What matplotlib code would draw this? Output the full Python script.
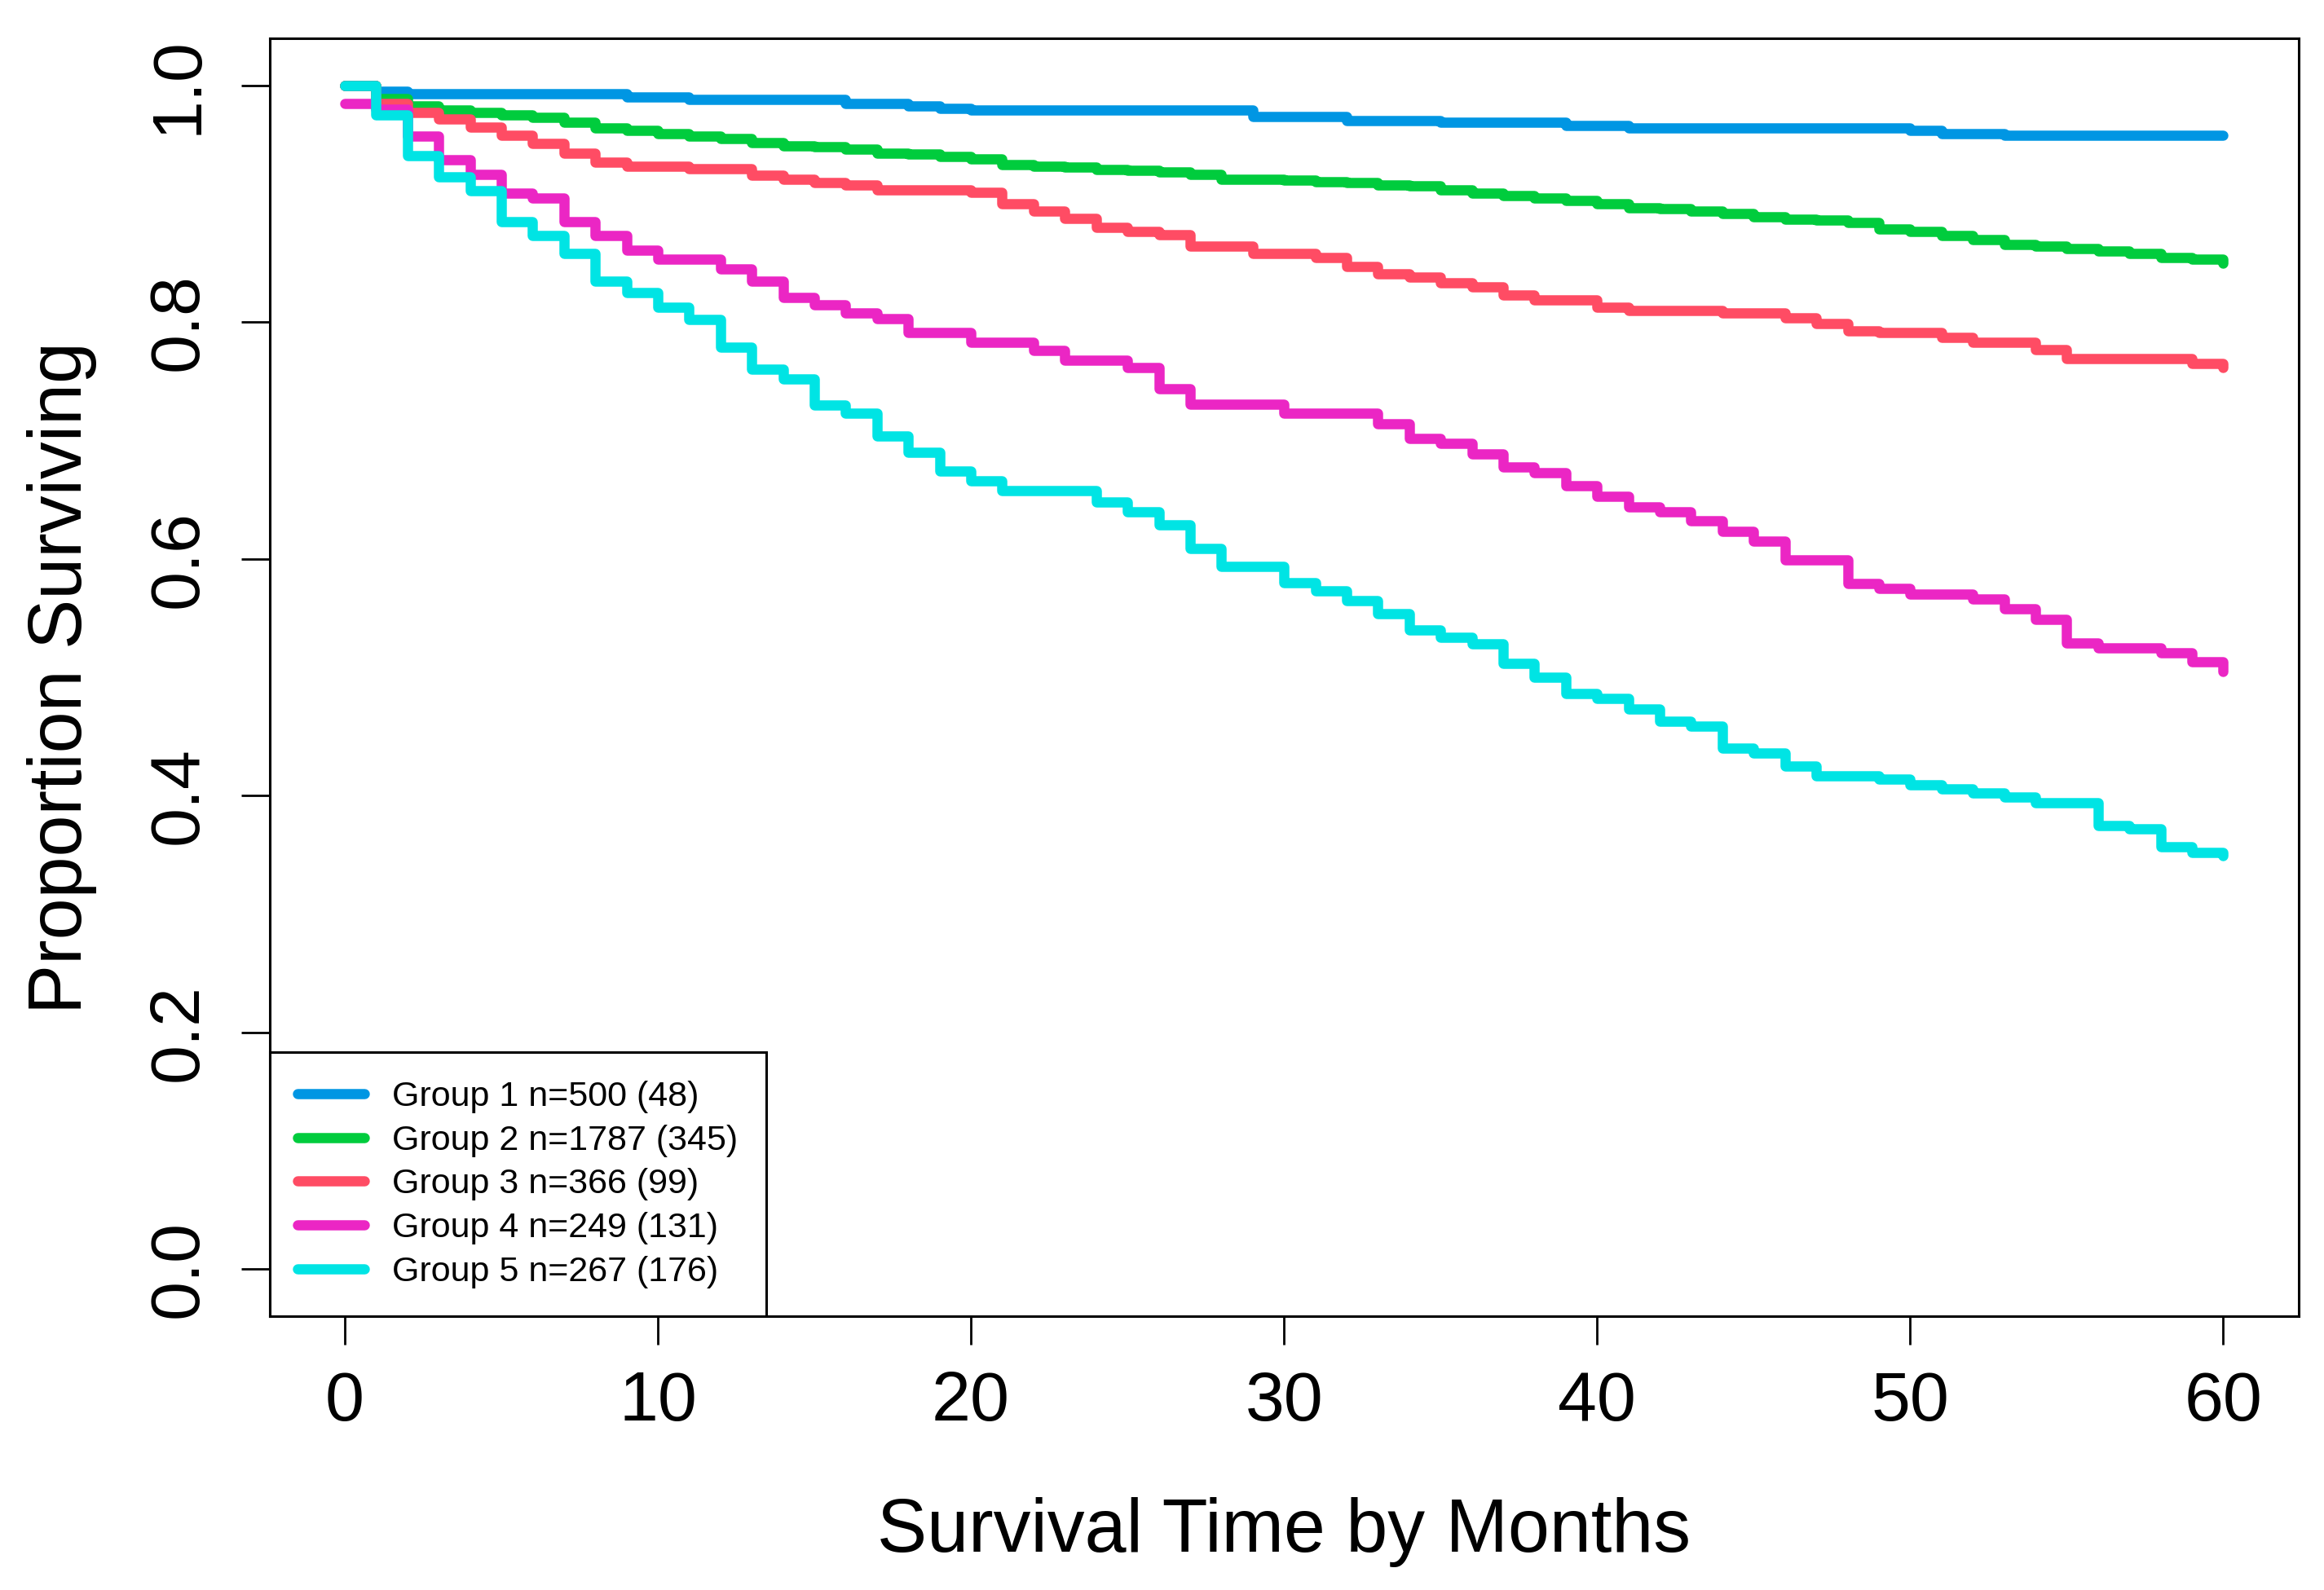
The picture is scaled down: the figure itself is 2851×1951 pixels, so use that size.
import matplotlib
matplotlib.use('Agg')
import matplotlib.pyplot as plt

plt.rcParams['font.family'] = ['Liberation Sans', 'DejaVu Sans']

months = list(range(61))

# survival proportion at each month (Kaplan-Meier steps)
group1 = [1.0, 0.995, 0.993, 0.993, 0.993, 0.993, 0.993, 0.993, 0.993, 0.990,
          0.990, 0.988, 0.988, 0.988, 0.988, 0.988, 0.985, 0.985, 0.983, 0.981,
          0.979, 0.979, 0.979, 0.979, 0.979, 0.979, 0.979, 0.979, 0.979, 0.974,
          0.974, 0.974, 0.970, 0.970, 0.970, 0.969, 0.969, 0.969, 0.969, 0.966,
          0.966, 0.964, 0.964, 0.964, 0.964, 0.964, 0.964, 0.964, 0.964, 0.964,
          0.962, 0.959, 0.959, 0.958, 0.958, 0.958, 0.958, 0.958, 0.958, 0.958,
          0.958]
group2 = [1.0, 0.989, 0.983, 0.979, 0.977, 0.975, 0.973, 0.969, 0.964, 0.962,
          0.959, 0.957, 0.955, 0.952, 0.949, 0.948, 0.946, 0.943, 0.942, 0.940,
          0.938, 0.933, 0.932, 0.931, 0.929, 0.928, 0.927, 0.925, 0.921, 0.921,
          0.920, 0.919, 0.918, 0.916, 0.915, 0.912, 0.909, 0.907, 0.905, 0.903,
          0.900, 0.897, 0.896, 0.894, 0.892, 0.889, 0.887, 0.886, 0.884, 0.879,
          0.877, 0.873, 0.870, 0.866, 0.864, 0.862, 0.860, 0.858, 0.855, 0.853,
          0.850]
group3 = [1.0, 0.985, 0.977, 0.972, 0.965, 0.958, 0.951, 0.943, 0.935, 0.932,
          0.932, 0.930, 0.930, 0.924, 0.921, 0.918, 0.916, 0.912, 0.912, 0.912,
          0.910, 0.900, 0.894, 0.888, 0.880, 0.877, 0.874, 0.864, 0.864, 0.858,
          0.858, 0.855, 0.847, 0.841, 0.838, 0.833, 0.830, 0.823, 0.819, 0.819,
          0.813, 0.810, 0.810, 0.810, 0.808, 0.808, 0.804, 0.799, 0.793, 0.791,
          0.791, 0.787, 0.783, 0.783, 0.777, 0.769, 0.769, 0.769, 0.769, 0.765,
          0.762]
group4 = [0.985, 0.980, 0.957, 0.937, 0.925, 0.909, 0.905, 0.885, 0.873, 0.861,
          0.853, 0.853, 0.845, 0.835, 0.821, 0.815, 0.808, 0.803, 0.791, 0.791,
          0.783, 0.783, 0.776, 0.768, 0.768, 0.762, 0.744, 0.731, 0.731, 0.731,
          0.723, 0.723, 0.723, 0.714, 0.702, 0.698, 0.689, 0.678, 0.673, 0.662,
          0.653, 0.644, 0.640, 0.632, 0.623, 0.615, 0.599, 0.599, 0.579, 0.575,
          0.570, 0.570, 0.566, 0.558, 0.549, 0.529, 0.525, 0.525, 0.521, 0.513,
          0.505]
group5 = [1.0, 0.975, 0.941, 0.923, 0.911, 0.885, 0.873, 0.858, 0.835, 0.825,
          0.813, 0.802, 0.779, 0.760, 0.752, 0.730, 0.723, 0.704, 0.690, 0.674,
          0.666, 0.658, 0.658, 0.658, 0.648, 0.640, 0.629, 0.609, 0.594, 0.594,
          0.580, 0.573, 0.565, 0.554, 0.540, 0.534, 0.528, 0.512, 0.500, 0.486,
          0.482, 0.473, 0.463, 0.459, 0.440, 0.436, 0.425, 0.417, 0.417, 0.414,
          0.409, 0.406, 0.402, 0.399, 0.394, 0.394, 0.375, 0.372, 0.357, 0.352,
          0.349]

labels = ['Group 1 n=500 (48)', 'Group 2 n=1787 (345)', 'Group 3 n=366 (99)',
          'Group 4 n=249 (131)', 'Group 5 n=267 (176)']
colors = ['#0096E3', '#00CC3D', '#FF4C64', '#EB26C4', '#00E4E4']

fig = plt.figure(figsize=(28.51, 19.51), dpi=100)
ax = fig.add_axes([0.116, 0.172, 0.873, 0.804])

for vals, lab, col in zip([group1, group2, group3, group4, group5], labels, colors):
    ax.step(months, vals, where='post', color=col, lw=9, label=lab,
            solid_capstyle='round', solid_joinstyle='round')

ax.set_xlim(-2.4, 62.4)
ax.set_ylim(-0.04, 1.04)
ax.set_xticks([0, 10, 20, 30, 40, 50, 60])
ax.set_yticks([0.0, 0.2, 0.4, 0.6, 0.8, 1.0])
ax.set_yticklabels(['0.0', '0.2', '0.4', '0.6', '0.8', '1.0'], rotation=90, va='center')
ax.tick_params(axis='both', length=25, width=2, labelsize=62, direction='out')
ax.tick_params(axis='x', pad=22)
ax.tick_params(axis='y', pad=26)
for s in ax.spines.values():
    s.set_linewidth(2.2)

ax.set_xlabel('Survival Time by Months', fontsize=66, labelpad=55)
ax.set_ylabel('Proportion Surviving', fontsize=66, labelpad=44)

leg = ax.legend(loc='lower left', bbox_to_anchor=(0, 0), borderaxespad=0,
                fontsize=31, fancybox=False, framealpha=1, edgecolor='black',
                handlelength=1.9, handletextpad=0.8, labelspacing=0.32,
                borderpad=0.8)
leg.get_frame().set_linewidth(2.2)
for ln in leg.get_lines():
    ln.set_linewidth(9)
    ln.set_solid_capstyle('round')

fig.savefig('out.png', dpi=100, facecolor='white')
